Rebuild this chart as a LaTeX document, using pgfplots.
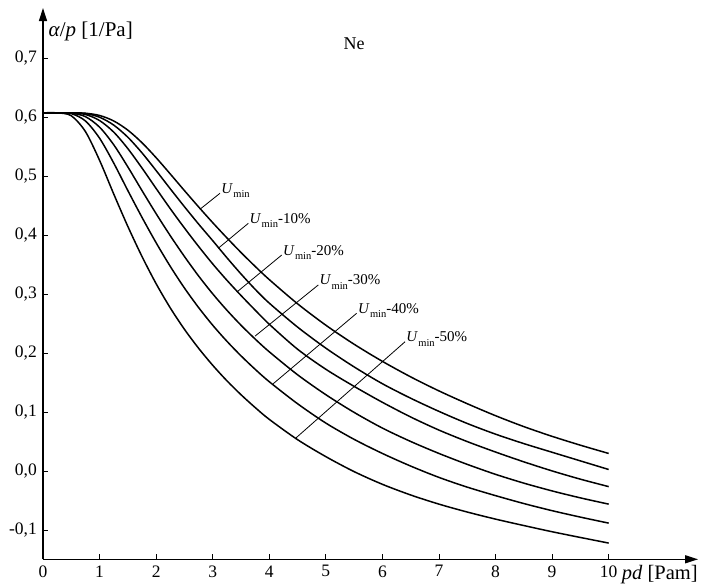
\documentclass[border=0pt]{standalone}
\usepackage{pgfplots}
\pgfplotsset{compat=1.18}
\usepackage{pgfplotstable}
\usepackage{fontspec}
\setmainfont{Liberation Serif}
\usetikzlibrary{arrows.meta}

\pgfplotstableread{
x     c1      c2      c3      c4      c5      c6
0     0.607   0.607   0.607   0.607   0.607   0.607
0.25  0.607   0.607   0.607   0.607   0.607   0.607
0.5   0.607   0.607   0.6069  0.6065  0.6057  0.6021
0.75  0.6064  0.6058  0.6043  0.6006  0.5933  0.5753
1.0   0.6026  0.5996  0.5940  0.5828  0.5641  0.5266
1.25  0.5933  0.5863  0.5744  0.5530  0.5220  0.4696
1.5   0.5777  0.5657  0.5464  0.5154  0.4753  0.4145
1.75  0.5564  0.5392  0.5135  0.4753  0.4299  0.3636
2.0   0.5310  0.5092  0.4788  0.4361  0.3868  0.3174
2.25  0.5034  0.4783  0.4446  0.3988  0.3468  0.2764
2.5   0.4753  0.4480  0.4119  0.3636  0.3102  0.2402
2.75  0.4477  0.4186  0.3807  0.3306  0.2771  0.2081
3.0   0.4209  0.3904  0.3510  0.3003  0.2471  0.1792
3.25  0.3952  0.3616  0.3234  0.2726  0.2200  0.1530
3.5   0.3704  0.3340  0.2975  0.2471  0.1952  0.1293
3.75  0.3468  0.3080  0.2727  0.2237  0.1724  0.1076
4.0   0.3244  0.2845  0.2487  0.2020  0.1513  0.0875
4.5   0.2834  0.2439  0.2064  0.1631  0.1140  0.0531
5.0   0.2471  0.2082  0.1724  0.1293  0.0812  0.0243
5.5   0.2148  0.1764  0.1434  0.0993  0.0536  -0.0011
6.0   0.1858  0.1479  0.1164  0.0727  0.0297  -0.0226
6.5   0.1595  0.1233  0.0915  0.0500  0.0083  -0.0407
7.0   0.1357  0.1010  0.0693  0.0297  -0.0109 -0.0562
7.5   0.1140  0.0805  0.0498  0.0112  -0.0274 -0.0696
8.0   0.0937  0.0624  0.0321  -0.0057 -0.0418 -0.0816
8.5   0.0752  0.0464  0.0155  -0.0206 -0.0552 -0.0925
9.0   0.0587  0.0317  0.0001  -0.0338 -0.0673 -0.1030
9.5   0.0437  0.0171  -0.0139 -0.0456 -0.0782 -0.1127
10    0.0297  0.0025  -0.0265 -0.0562 -0.0884 -0.1222
}\curves

\newcommand{\Umin}{\textit{U}\kern0.3pt\raisebox{-0.3em}{\fontsize{10.5}{10.5}\selectfont min}}

\begin{document}
\begin{tikzpicture}
\begin{axis}[
  x=56.57pt, y=590pt,
  xmin=0, xmax=11.58, ymin=-0.1497, ymax=0.7847,
  axis lines*=left,
  axis line style={line width=1.3pt, -{Triangle[length=13pt,width=8pt]}},
  clip=false,
  tick align=inside,
  major tick length=5pt,
  tick style={line width=0.8pt, black},
  xtick={0,1,2,3,4,5,6,7,8,9,10},
  xticklabels={0,1,2,3,4,5,6,7,8,9,10},
  ytick={-0.1,0,0.1,0.2,0.3,0.4,0.5,0.6,0.7},
  yticklabels={{-0,1},{0,0},{0,1},{0,2},{0,3},{0,4},{0,5},{0,6},{0,7}},
  xticklabel style={font=\fontsize{17.5}{17.5}\selectfont, inner sep=0pt, anchor=north, yshift=-6pt},
  yticklabel style={font=\fontsize{17.5}{17.5}\selectfont, inner sep=0pt, anchor=east, xshift=-6pt},
  cycle list={{black, solid, line width=1.5pt, smooth, mark=none}},
]
\path (axis cs:-0.760,-0.1915) rectangle (axis cs:11.65,0.7983);
\addplot[black, line width=1.5pt, smooth] table[x=x,y=c1]{\curves};
\addplot[black, line width=1.5pt, smooth] table[x=x,y=c2]{\curves};
\addplot[black, line width=1.5pt, smooth] table[x=x,y=c3]{\curves};
\addplot[black, line width=1.5pt, smooth] table[x=x,y=c4]{\curves};
\addplot[black, line width=1.5pt, smooth] table[x=x,y=c5]{\curves};
\addplot[black, line width=1.5pt, smooth] table[x=x,y=c6]{\curves};

\draw[line width=0.8pt] (axis cs:2.775,0.4436) -- (axis cs:3.129,0.4707) node[anchor=base west, inner sep=0pt, xshift=1pt, font=\fontsize{15}{15}\selectfont] {\Umin};
\draw[line width=0.8pt] (axis cs:3.099,0.3775) -- (axis cs:3.63,0.4198) node[anchor=base west, inner sep=0pt, xshift=1pt, font=\fontsize{15}{15}\selectfont] {\Umin-10\%};
\draw[line width=0.8pt] (axis cs:3.435,0.3039) -- (axis cs:4.22,0.366) node[anchor=base west, inner sep=0pt, xshift=1pt, font=\fontsize{15}{15}\selectfont] {\Umin-20\%};
\draw[line width=0.8pt] (axis cs:3.748,0.2285) -- (axis cs:4.867,0.3153) node[anchor=base west, inner sep=0pt, xshift=1pt, font=\fontsize{15}{15}\selectfont] {\Umin-30\%};
\draw[line width=0.8pt] (axis cs:4.071,0.1480) -- (axis cs:5.545,0.2673) node[anchor=base west, inner sep=0pt, xshift=1pt, font=\fontsize{15}{15}\selectfont] {\Umin-40\%};
\draw[line width=0.8pt] (axis cs:4.472,0.0560) -- (axis cs:6.40,0.219) node[anchor=base west, inner sep=0pt, xshift=1pt, font=\fontsize{15}{15}\selectfont] {\Umin-50\%};

\node[anchor=base west, inner sep=0pt, font=\fontsize{21}{21}\selectfont] at (axis cs:0.094,0.737) {\textit{α}/\textit{p} [1/Pa]};
\node[anchor=center, inner sep=0pt, font=\fontsize{18}{18}\selectfont] at (axis cs:5.5,0.725) {Ne};
\node[anchor=base west, inner sep=0pt, font=\fontsize{20.5}{20.5}\selectfont] at (axis cs:10.23,-0.1836) {\textit{pd} [Pam]};
\end{axis}
\end{tikzpicture}
\end{document}
